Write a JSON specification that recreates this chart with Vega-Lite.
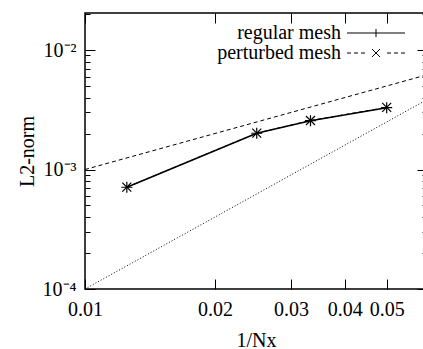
{
  "$schema": "https://vega.github.io/schema/vega-lite/v6.json",
  "width": 342,
  "height": 276,
  "autosize": "none",
  "padding": {"left": 85, "top": 13, "right": 0, "bottom": 60},
  "background": "white",
  "config": {
    "view": {"stroke": "black", "strokeWidth": 1.5},
    "font": "Liberation Serif",
    "axis": {
      "grid": false,
      "domain": false,
      "tickColor": "black",
      "tickWidth": 1,
      "labelColor": "black",
      "labelFont": "Liberation Serif",
      "labelFontSize": 20,
      "titleFont": "Liberation Serif",
      "titleFontSize": 20,
      "titleFontWeight": "normal",
      "titleColor": "black"
    }
  },
  "datasets": {
    "ref": [
      {"kind": "order1", "h": 0.01, "err": 0.001},
      {"kind": "order1", "h": 0.062, "err": 0.0062},
      {"kind": "order2", "h": 0.01, "err": 0.0001},
      {"kind": "order2", "h": 0.062, "err": 0.003844}
    ],
    "mesh": [
      {"series": "regular mesh", "h": 0.0125, "err": 0.00071},
      {"series": "regular mesh", "h": 0.025, "err": 0.00201},
      {"series": "regular mesh", "h": 0.0333, "err": 0.00256},
      {"series": "regular mesh", "h": 0.05, "err": 0.00329},
      {"series": "perturbed mesh", "h": 0.0125, "err": 0.000712},
      {"series": "perturbed mesh", "h": 0.025, "err": 0.002015},
      {"series": "perturbed mesh", "h": 0.0333, "err": 0.00257},
      {"series": "perturbed mesh", "h": 0.05, "err": 0.00331}
    ]
  },
  "layer": [
    {
      "data": {"name": "ref"},
      "transform": [{"filter": "datum.kind == 'order1'"}],
      "mark": {"type": "line", "color": "black", "strokeWidth": 1, "strokeDash": [4, 3], "clip": true},
      "encoding": {
        "x": {
          "field": "h", "type": "quantitative",
          "scale": {"type": "log", "domain": [0.01, 0.062], "nice": false},
          "axis": {
            "orient": "bottom",
            "title": "1/Nx",
            "values": [0.01, 0.02, 0.03, 0.04, 0.05],
            "format": ".2f",
            "tickSize": -10,
            "labelPadding": 20,
            "titlePadding": 11,
            "labelFlush": false
          }
        },
        "y": {
          "field": "err", "type": "quantitative",
          "scale": {"type": "log", "domain": [0.0001, 0.0204], "nice": false},
          "axis": {
            "orient": "left",
            "title": "L2-norm",
            "values": [0.0001, 0.0002, 0.0003, 0.0004, 0.0005, 0.0006, 0.0007, 0.0008, 0.0009, 0.001, 0.002, 0.003, 0.004, 0.005, 0.006, 0.007, 0.008, 0.009, 0.01, 0.02],
            "labelExpr": "datum.value == 0.0001 ? '10⁻⁴' : datum.value == 0.001 ? '10⁻³' : datum.value == 0.01 ? '10⁻²' : ''",
            "tickSize": {"condition": {"test": "datum.value == 0.0001 || datum.value == 0.001 || datum.value == 0.01", "value": -10}, "value": -5},
            "labelPadding": 19,
            "titlePadding": 5,
            "labelFlush": false
          }
        }
      }
    },
    {
      "data": {"name": "ref"},
      "transform": [{"filter": "datum.kind == 'order2'"}],
      "mark": {"type": "line", "color": "black", "strokeWidth": 1, "strokeDash": [1, 2], "clip": true},
      "encoding": {
        "x": {
          "field": "h", "type": "quantitative",
          "scale": {"type": "log", "domain": [0.01, 0.062], "nice": false},
          "axis": {
            "orient": "top",
            "title": null,
            "values": [0.01, 0.02, 0.03, 0.04, 0.05],
            "labels": false,
            "tickSize": -10
          }
        },
        "y": {
          "field": "err", "type": "quantitative",
          "scale": {"type": "log", "domain": [0.0001, 0.0204], "nice": false},
          "axis": {
            "orient": "right",
            "title": null,
            "labels": false,
            "values": [0.0001, 0.0002, 0.0003, 0.0004, 0.0005, 0.0006, 0.0007, 0.0008, 0.0009, 0.001, 0.002, 0.003, 0.004, 0.005, 0.006, 0.007, 0.008, 0.009, 0.01, 0.02],
            "tickSize": {"condition": {"test": "datum.value == 0.0001 || datum.value == 0.001 || datum.value == 0.01", "value": -10}, "value": -5}
          }
        }
      }
    },
    {
      "data": {"name": "mesh"},
      "transform": [{"filter": "datum.series == 'regular mesh'"}],
      "mark": {"type": "line", "color": "black", "strokeWidth": 1.5},
      "encoding": {
        "x": {"field": "h", "type": "quantitative", "axis": null},
        "y": {"field": "err", "type": "quantitative", "axis": null}
      }
    },
    {
      "data": {"name": "mesh"},
      "transform": [{"filter": "datum.series == 'perturbed mesh'"}],
      "mark": {"type": "line", "color": "black", "strokeWidth": 1, "strokeDash": [4, 3]},
      "encoding": {
        "x": {"field": "h", "type": "quantitative", "axis": null},
        "y": {"field": "err", "type": "quantitative", "axis": null}
      }
    },
    {
      "data": {"name": "mesh"},
      "transform": [{"filter": "datum.series == 'regular mesh'"}],
      "mark": {"type": "point", "shape": "M-1,0H1M0,-1V1", "size": 121, "filled": false, "color": "black", "strokeWidth": 1.2, "opacity": 1},
      "encoding": {
        "x": {"field": "h", "type": "quantitative", "axis": null},
        "y": {"field": "err", "type": "quantitative", "axis": null}
      }
    },
    {
      "data": {"name": "mesh"},
      "transform": [{"filter": "datum.series == 'perturbed mesh'"}],
      "mark": {"type": "point", "shape": "M-1,-1L1,1M-1,1L1,-1", "size": 81, "filled": false, "color": "black", "strokeWidth": 1.2, "opacity": 1},
      "encoding": {
        "x": {"field": "h", "type": "quantitative", "axis": null},
        "y": {"field": "err", "type": "quantitative", "axis": null}
      }
    },
    {
      "data": {"name": "mesh"},
      "mark": {"type": "point", "filled": false, "color": "black", "size": 100, "strokeWidth": 1, "opacity": 0},
      "encoding": {
        "x": {"field": "h", "type": "quantitative", "axis": null},
        "y": {"field": "err", "type": "quantitative", "axis": null},
        "shape": {
          "field": "series", "type": "nominal",
          "scale": {
            "domain": ["regular mesh", "perturbed mesh"],
            "range": [
              "M-5.8,0H5.8M0,-0.8V0.8",
              "M-5.8,0H-5M-4.4,0H-3.6M-3,0H-2.2M-0.8,-0.8L0.8,0.8M-0.8,0.8L0.8,-0.8M2.2,0H3M3.6,0H4.4M5,0H5.8"
            ]
          },
          "legend": {
            "title": null,
            "orient": "none",
            "legendX": 281,
            "legendY": 10,
            "symbolOpacity": 1,
            "symbolSize": 100,
            "symbolStrokeWidth": 1,
            "symbolStrokeColor": "black",
            "symbolFillColor": "transparent",
            "labelAlign": "right",
            "labelOffset": -45,
            "labelFont": "Liberation Serif",
            "labelFontSize": 20,
            "labelColor": "black",
            "labelLimit": 0,
            "rowPadding": -3,
            "padding": 0
          }
        }
      }
    }
  ],
  "resolve": {"axis": {"x": "independent", "y": "independent"}}
}
